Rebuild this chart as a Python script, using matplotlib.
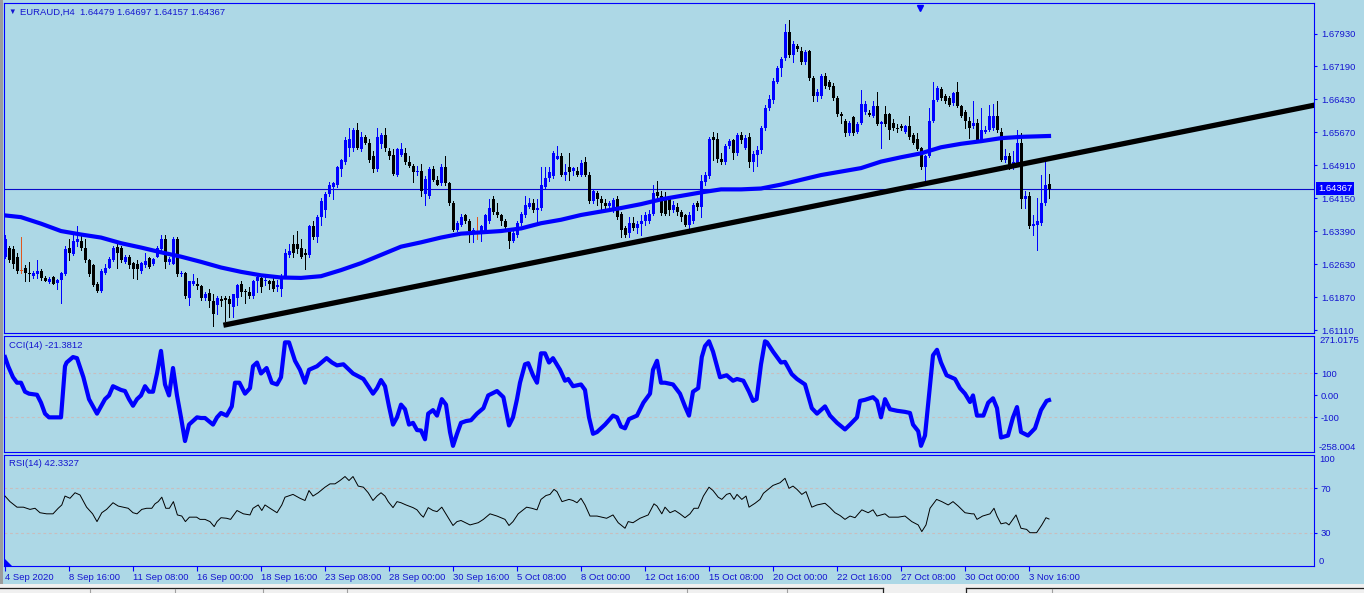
import matplotlib
matplotlib.use("Agg")
import matplotlib.pyplot as plt
import matplotlib.transforms as mtransforms
from matplotlib.patches import Rectangle, Polygon
from matplotlib.lines import Line2D
import numpy as np

# ---------------- data ----------------
symbol_title = "EURAUD,H4  1.64479 1.64697 1.64157 1.64367"

opens = [1.6280,1.6301,1.6297,1.6280,1.6248,1.6255,1.6243,1.6235,1.6239,1.6247,
         1.6231,1.6222,1.6233,1.6220,1.6227,1.6239,1.6299,1.6286,1.6313,1.6317,
         1.6301,1.6272,1.6260,1.6218,1.6202,1.6243,1.6255,1.6272,1.6303,1.6299,
         1.6268,1.6280,1.6265,1.6264,1.6247,1.6260,1.6276,1.6262,1.6280,1.6297,
         1.6321,1.6268,1.6264,1.6321,1.6239,1.6243,1.6185,1.6218,1.6218,1.6213,
         1.6185,1.6196,1.6177,1.6169,1.6183,1.6185,1.6183,1.6165,1.6185,1.6218,
         1.6201,1.6198,1.6190,1.6223,1.6231,1.6223,1.6223,1.6223,1.6210,1.6206,
         1.6235,1.6284,1.6309,1.6309,1.6301,1.6288,1.6284,1.6350,1.6325,1.6371,
         1.6387,1.6424,1.6441,1.6445,1.6482,1.6498,1.6531,1.6531,1.6572,1.6527,
         1.6556,1.6543,1.6511,1.6482,1.6539,1.6560,1.6523,1.6515,1.6469,1.6515,
         1.6519,1.6498,1.6490,1.6474,1.6478,1.6424,1.6420,1.6482,1.6457,1.6449,
         1.6486,1.6449,1.6404,1.6342,1.6354,1.6375,1.6362,1.6338,1.6343,1.6338,
         1.6342,1.6362,1.6412,1.6383,1.6375,1.6362,1.6338,1.6317,1.6330,1.6358,
         1.6375,1.6395,1.6404,1.6387,1.6391,1.6441,1.6461,1.6465,1.6506,1.6511,
         1.6469,1.6486,1.6478,1.6478,1.6469,1.6498,1.6469,1.6408,1.6427,1.6412,
         1.6404,1.6397,1.6387,1.6412,1.6379,1.6346,1.6334,1.6358,1.6346,1.6356,
         1.6361,1.6362,1.6379,1.6428,1.6420,1.6416,1.6412,1.6387,1.6395,1.6383,
         1.6375,1.6354,1.6362,1.6404,1.6395,1.6453,1.6465,1.6556,1.6552,1.6506,
         1.6498,1.6535,1.6548,1.6519,1.6560,1.6531,1.6556,1.6498,1.6515,1.6525,
         1.6576,1.6622,1.6642,1.6683,1.6715,1.6737,1.6797,1.6745,1.6766,1.6753,
         1.6729,1.6753,1.6692,1.6651,1.6651,1.6696,1.6683,1.6674,1.6646,1.6609,
         1.6593,1.6564,1.6601,1.6568,1.6589,1.6613,1.6611,1.6605,1.6627,1.6586,
         1.6609,1.6609,1.6589,1.6576,1.6581,1.6568,1.6581,1.6560,1.6552,1.6531,
         1.6486,1.6511,1.6593,1.6642,1.6667,1.6651,1.6646,1.6634,1.6659,1.6626,
         1.6613,1.6593,1.6581,1.6589,1.6548,1.6567,1.6572,1.6576,1.6605,1.6568,
         1.6502,1.6511,1.6486,1.6494,1.6543,1.6413,1.6420,1.6350,1.6354,1.6358,
         1.6404,1.64479]
highs = [1.6330,1.6305,1.6305,1.6288,1.6325,1.6260,1.6268,1.6247,1.6272,1.6251,
         1.6235,1.6233,1.6235,1.6229,1.6245,1.6305,1.6321,1.6330,1.6350,1.6328,
         1.6321,1.6274,1.6262,1.6221,1.6251,1.6262,1.6280,1.6305,1.6313,1.6305,
         1.6284,1.6284,1.6268,1.6272,1.6268,1.6288,1.6280,1.6276,1.6305,1.6330,
         1.6330,1.6280,1.6325,1.6325,1.6247,1.6245,1.6223,1.6239,1.6231,1.6214,
         1.6198,1.6206,1.6194,1.6190,1.6190,1.6190,1.6190,1.6194,1.6218,1.6223,
         1.6206,1.6210,1.6227,1.6239,1.6239,1.6235,1.6227,1.6235,1.6227,1.6239,
         1.6297,1.6309,1.6330,1.6338,1.6321,1.6297,1.6352,1.6362,1.6375,1.6416,
         1.6428,1.6453,1.6453,1.6490,1.6506,1.6556,1.6576,1.6576,1.6589,1.6568,
         1.6560,1.6552,1.6523,1.6576,1.6564,1.6576,1.6531,1.6527,1.6531,1.6543,
         1.6531,1.6511,1.6494,1.6490,1.6494,1.6465,1.6486,1.6490,1.6465,1.6494,
         1.6511,1.6453,1.6408,1.6362,1.6379,1.6379,1.6367,1.6346,1.6372,1.6354,
         1.6379,1.6412,1.6420,1.6404,1.6379,1.6367,1.6342,1.6342,1.6362,1.6383,
         1.6420,1.6416,1.6412,1.6412,1.6486,1.6486,1.6486,1.6523,1.6535,1.6519,
         1.6494,1.6519,1.6486,1.6486,1.6502,1.6509,1.6474,1.6437,1.6432,1.6420,
         1.6412,1.6408,1.6416,1.6420,1.6383,1.6350,1.6371,1.6371,1.6362,1.6375,
         1.6383,1.6387,1.6445,1.6455,1.6432,1.6428,1.6420,1.6408,1.6404,1.6387,
         1.6379,1.6383,1.6404,1.6408,1.6469,1.6474,1.6556,1.6568,1.6564,1.6519,
         1.6539,1.6550,1.6552,1.6564,1.6568,1.6560,1.6564,1.6523,1.6535,1.6581,
         1.6630,1.6652,1.6692,1.6720,1.6741,1.6815,1.6825,1.6778,1.6770,1.6762,
         1.6757,1.6756,1.6696,1.6667,1.6700,1.6702,1.6688,1.6679,1.6651,1.6613,
         1.6597,1.6593,1.6605,1.6591,1.6663,1.6638,1.6618,1.6638,1.6659,1.6593,
         1.6626,1.6611,1.6597,1.6585,1.6586,1.6583,1.6603,1.6564,1.6564,1.6533,
         1.6515,1.6622,1.6683,1.6673,1.6671,1.6655,1.6651,1.6660,1.6683,1.6630,
         1.6618,1.6601,1.6638,1.6597,1.6622,1.6581,1.6630,1.6632,1.6638,1.6576,
         1.6527,1.6519,1.6523,1.6572,1.6564,1.6432,1.6428,1.6375,1.6416,1.6469,
         1.6502,1.64697]
lows = [1.6276,1.6268,1.6255,1.6243,1.6243,1.6223,1.6223,1.6231,1.6231,1.6227,
        1.6223,1.6220,1.6216,1.6206,1.6173,1.6237,1.6272,1.6284,1.6305,1.6295,
        1.6268,1.6235,1.6213,1.6198,1.6198,1.6239,1.6254,1.6270,1.6254,1.6268,
        1.6265,1.6255,1.6231,1.6229,1.6243,1.6257,1.6255,1.6260,1.6279,1.6295,
        1.6255,1.6262,1.6262,1.6235,1.6235,1.6185,1.6169,1.6214,1.6206,1.6181,
        1.6181,1.6165,1.6120,1.6148,1.6167,1.6132,1.6140,1.6142,1.6169,1.6190,
        1.6173,1.6185,1.6185,1.6198,1.6198,1.6214,1.6206,1.6202,1.6202,1.6190,
        1.6231,1.6280,1.6280,1.6288,1.6276,1.6251,1.6280,1.6321,1.6313,1.6354,
        1.6371,1.6420,1.6412,1.6441,1.6465,1.6494,1.6511,1.6523,1.6527,1.6523,
        1.6539,1.6498,1.6474,1.6478,1.6531,1.6523,1.6506,1.6469,1.6465,1.6511,
        1.6494,1.6486,1.6453,1.6469,1.6420,1.6400,1.6416,1.6455,1.6445,1.6445,
        1.6445,1.6400,1.6339,1.6338,1.6350,1.6358,1.6313,1.6313,1.6321,1.6317,
        1.6338,1.6358,1.6379,1.6371,1.6354,1.6344,1.6301,1.6313,1.6325,1.6354,
        1.6371,1.6391,1.6383,1.6358,1.6387,1.6437,1.6455,1.6461,1.6504,1.6465,
        1.6457,1.6457,1.6469,1.6465,1.6465,1.6465,1.6404,1.6404,1.6400,1.6387,
        1.6391,1.6387,1.6383,1.6367,1.6325,1.6325,1.6325,1.6342,1.6334,1.6330,
        1.6354,1.6358,1.6375,1.6416,1.6377,1.6375,1.6375,1.6383,1.6375,1.6362,
        1.6350,1.6334,1.6358,1.6387,1.6372,1.6445,1.6461,1.6502,1.6498,1.6494,
        1.6494,1.6531,1.6506,1.6515,1.6543,1.6527,1.6486,1.6478,1.6490,1.6519,
        1.6572,1.6618,1.6634,1.6679,1.6696,1.6733,1.6741,1.6729,1.6753,1.6725,
        1.6725,1.6688,1.6638,1.6638,1.6646,1.6669,1.6667,1.6642,1.6605,1.6589,
        1.6558,1.6560,1.6560,1.6564,1.6585,1.6609,1.6603,1.6601,1.6583,1.6531,
        1.6581,1.6550,1.6572,1.6568,1.6572,1.6564,1.6552,1.6539,1.6525,1.6482,
        1.6457,1.6509,1.6591,1.6638,1.6642,1.6634,1.6626,1.6630,1.6624,1.6601,
        1.6576,1.6553,1.6576,1.6545,1.6545,1.6564,1.6570,1.6572,1.6568,1.6501,
        1.6498,1.6482,1.6482,1.6492,1.6391,1.6391,1.6346,1.6330,1.6295,1.6354,
        1.6400,1.64157]
closes = [1.6321,1.6272,1.6264,1.6247,1.6248,1.6243,1.6239,1.6243,1.6247,1.6231,
          1.6225,1.6229,1.6218,1.6227,1.6243,1.6297,1.6288,1.6317,1.6321,1.6299,
          1.6272,1.6239,1.6214,1.6202,1.6247,1.6255,1.6274,1.6301,1.6288,1.6272,
          1.6280,1.6260,1.6251,1.6251,1.6265,1.6270,1.6257,1.6274,1.6301,1.6320,
          1.6268,1.6274,1.6321,1.6239,1.6243,1.6190,1.6223,1.6224,1.6213,1.6185,
          1.6194,1.6177,1.6148,1.6185,1.6177,1.6180,1.6172,1.6194,1.6214,1.6198,
          1.6198,1.6190,1.6223,1.6232,1.6210,1.6227,1.6218,1.6206,1.6214,1.6235,
          1.6288,1.6292,1.6288,1.6297,1.6280,1.6284,1.6350,1.6325,1.6371,1.6408,
          1.6424,1.6445,1.6449,1.6486,1.6502,1.6548,1.6552,1.6572,1.6531,1.6556,
          1.6543,1.6502,1.6482,1.6556,1.6560,1.6531,1.6511,1.6470,1.6527,1.6527,
          1.6498,1.6490,1.6474,1.6478,1.6432,1.6460,1.6482,1.6457,1.6446,1.6486,
          1.6449,1.6404,1.6342,1.6358,1.6372,1.6362,1.6338,1.6342,1.6343,1.6350,
          1.6375,1.6391,1.6383,1.6375,1.6362,1.6348,1.6317,1.6334,1.6358,1.6379,
          1.6400,1.6404,1.6387,1.6391,1.6445,1.6461,1.6474,1.6519,1.6511,1.6469,
          1.6474,1.6474,1.6484,1.6469,1.6496,1.6469,1.6408,1.6432,1.6412,1.6404,
          1.6397,1.6404,1.6410,1.6371,1.6342,1.6331,1.6358,1.6346,1.6356,1.6361,
          1.6377,1.6379,1.6427,1.6420,1.6381,1.6379,1.6387,1.6400,1.6383,1.6371,
          1.6354,1.6377,1.6400,1.6394,1.6455,1.6468,1.6550,1.6548,1.6504,1.6498,
          1.6535,1.6547,1.6519,1.6560,1.6548,1.6554,1.6498,1.6517,1.6525,1.6576,
          1.6622,1.6644,1.6685,1.6715,1.6735,1.6797,1.6745,1.6770,1.6759,1.6729,
          1.6751,1.6692,1.6651,1.6660,1.6696,1.6674,1.6671,1.6646,1.6609,1.6603,
          1.6564,1.6589,1.6564,1.6586,1.6632,1.6632,1.6606,1.6626,1.6586,1.6590,
          1.6585,1.6572,1.6576,1.6575,1.6576,1.6581,1.6556,1.6543,1.6529,1.6486,
          1.6511,1.6593,1.6642,1.6669,1.6646,1.6638,1.6630,1.6657,1.6627,1.6605,
          1.6593,1.6576,1.6589,1.6548,1.6572,1.6572,1.6605,1.6605,1.6572,1.6502,
          1.6512,1.6486,1.6498,1.6543,1.6413,1.6420,1.6350,1.6356,1.6361,1.6404,
          1.6446,1.64367]

# moving average (bar index, value)
ma_points = [(0,1.6375),(4,1.6371),(9,1.6356),(14,1.6339),(19,1.6331),(24,1.6324),
             (29,1.6311),(34,1.6301),(39,1.6290),(44,1.6280),(49,1.6268),(54,1.6255),
             (59,1.6245),(64,1.6237),(69,1.6232),(74,1.6231),(79,1.6235),(84,1.6249),
             (89,1.6265),(94,1.6284),(99,1.6303),(104,1.6313),(109,1.6324),(114,1.6333),
             (119,1.6336),(124,1.6339),(129,1.6345),(134,1.6357),(139,1.6365),(144,1.6376),
             (149,1.6384),(154,1.6392),(159,1.6401),(164,1.6412),(169,1.6420),(174,1.6428),
             (179,1.6435),(184,1.6435),(189,1.6437),(194,1.6446),(199,1.6457),(204,1.6468),
             (209,1.6476),(214,1.6484),(219,1.6499),(224,1.6509),(229,1.6518),(234,1.6532),
             (239,1.6540),(244,1.6546),(249,1.6553),(254,1.6556),(261,1.6558)]

# trend line anchors (bar index, price)
trend_points = [(54.6, 1.6122), (330.0, 1.6634)]

last_price = 1.64367
price_ticks = [1.61110, 1.61870, 1.62630, 1.63390, 1.64150, 1.64910,
               1.65670, 1.66430, 1.67190, 1.67930]

cci_label = "CCI(14) -21.3812"
cci_points = [(0,175),(0.8,133),(2,83),(3,58),(4,58),(5,17),(6,8),(8,3),(9,-33),(10,-83),
              (11,-100),(14,-100),(15,133),(15.4,150),(17,175),(18,170),(19.6,83),(21,-17),
              (23,-83),(24,-50),(25,-17),(26,0),(27,42),(29,25),(30,20),(31,-17),(32,-47),
              (33,-17),(34,0),(35,42),(36,17),(37,17),(38,100),(39,203),(40,50),(41,0),
              (42,125),(43,0),(44,-100),(45,-208),(46,-133),(48,-100),(49,-103),(50,-103),
              (52,-133),(53,-100),(54,-80),(55.4,-92),(56.7,-50),(57.5,58),(58.6,58),(60,8),
              (61.25,33),(62,133),(63,150),(64,100),(65.4,125),(66.7,58),(68,50),(69,83),
              (70,242),(71,242),(72.5,158),(73.75,117),(75,58),(76,117),(78,133),(80.4,170),
              (81.75,150),(83,137),(84.6,142),(87,100),(89.6,75),(90.8,42),(92,8),(93,33),
              (94,70),(95,42),(96,-50),(97,-133),(98,-100),(99,-42),(100,-63),(101,-133),
              (102,-125),(103,-158),(104,-160),(105,-200),(105.8,-83),(107,-67),(108,-92),
              (109.2,-17),(110.25,-42),(111.25,-167),(112,-230),(113,-175),(114,-125),
              (115.25,-117),(116.5,-113),(118,-83),(119.6,-58),(120.8,0),(123,20),(124.6,-8),
              (125.4,-83),(126,-137),(127,-100),(128,-17),(128.75,58),(130,142),(130.8,147),
              (132,92),(133,58),(134,192),(135,192),(136,150),(137,170),(138.75,117),(140,67),
              (140.8,75),(142,42),(144,50),(145,25),(146,-100),(147,-175),(148,-167),(150,-133),
              (152,-92),(153,-100),(154,-142),(155,-150),(156,-108),(157,-100),(158,-92),
              (159.6,-33),(161.25,8),(162,117),(163,158),(164,58),(165,58),(167,50),(168.75,8),
              (170,-50),(171,-92),(172,17),(173.3,33),(174.2,175),(175,225),(176,247),(177,200),
              (178.75,83),(180.4,92),(182,67),(183,75),(184.6,67),(186,17),(187,-25),(187.9,-17),
              (189,142),(190,247),(190.5,242),(192,200),(194,150),(195,153),(196.7,97),(198,75),
              (200,50),(201.7,-58),(203,-83),(205,-50),(206.25,-92),(208,-125),(210,-155),
              (211.25,-133),(213,-100),(213.75,-25),(215,-20),(217,-8),(218,-25),(219,-100),
              (220,-17),(221.25,-63),(223,-70),(225,-75),(226.25,-80),(227,-133),(228.3,-163),
              (229,-230),(230,-183),(231,0),(232,183),(233,208),(234,150),(235.4,92),(237.5,75),
              (238.75,33),(240,8),(241.25,-30),(242,0),(243,-92),(244.6,-92),(245.8,-33),
              (247,-13),(248,-58),(249,-192),(250.75,-183),(252,-100),(253,-53),(254,-167),
              (255.75,-183),(257.5,-150),(259,-67),(260.4,-25),(261,-21.38)]
cci_levels = [100, -100]
cci_min, cci_max = -258.004, 271.0175

rsi_label = "RSI(14) 42.3327"
rsi_points = [(0,63),(1.25,58),(3,53),(4.6,53),(6.25,51),(7.5,52),(8.75,48),(10.4,47),(12,47),
              (13.3,52),(14.2,55),(15,63),(16.25,61),(17.5,66),(18.75,64),(20.4,53),(21.9,47),
              (23,40),(24.2,48),(25.4,51),(27,57),(28.3,54),(29.6,53),(30.8,52),(32,48),(33,47),
              (34.2,51),(35.4,52),(36.7,52),(37.5,56),(38.3,58),(39.2,62),(40.2,52),(41.1,52),
              (42.1,58),(43.1,46),(44.2,45),(45.1,40),(46.1,44),(47.9,44),(48.75,42),(50,42),
              (51.25,40),(52.3,35.5),(53,40),(54,43.5),(55.4,43),(56.4,42),(58,50),(59.6,47),
              (61.25,46),(62,52),(63.3,55),(64.2,50),(65,55),(66.25,52),(68,48),(69.2,55),(70,62),
              (72,64.5),(73.75,61),(75,59),(76,68),(77,63),(78.3,66),(80,71),(81.25,74),
              (82.5,74),(83.75,77),(85,80.6),(86,77),(87,80.6),(88.3,72),(89.6,71),(90.8,66),
              (92,59),(93,63),(94,66),(95,63),(95.8,58),(97,52.6),(98,58),(99,57),(100.25,55),
              (102,52.6),(103,50.6),(104,46),(104.6,44),(105.8,52.6),(107,50),(108,49),
              (109.2,53),(110.4,46),(112,36.5),(113,40),(114,41),(116.25,37),(118.3,39),
              (119.6,42),(121.25,47),(123,45),(125,42),(126,36.5),(127,40),(128.3,47),(130.4,53),
              (131.7,52),(133,50.6),(134,60),(135.25,63.5),(136.25,64.5),(137.25,69),(138,67),
              (139.25,58),(141,60),(142,59),(143,57),(144,61),(145,55),(146.25,45),(148,45),
              (150.4,43),(152,46),(153.3,39),(155,34),(155.8,40),(157,39),(158.75,43),
              (160.8,46),(162.25,56),(163,54),(164.2,47),(165,53),(166.25,48),(167.5,50),
              (168.75,47),(170,43.5),(171.25,47),(172.25,52),(173.3,52),(174.6,63),(176,71),
              (177,68),(178.3,62),(179.2,60),(180.4,64.5),(181.25,65.5),(182.25,60),(183,64.5),
              (184.2,60),(185.25,63),(186,53),(187.5,56.5),(188.75,60),(189.6,65.5),(190.8,69),
              (192,72.6),(193.75,75),(195,79),(196,70),(197,72),(198,69),(199.2,64.5),
              (200.25,67),(201.7,53),(203,55),(205,56.5),(206.25,52.6),(207.5,48),(208.75,45.5),
              (210,42),(211.25,45),(212.5,43.5),(214.2,50.6),(215.8,48),(217,50.6),(218,45),
              (220,47),(221,44),(223.3,44),(225,45),(226.7,40),(228.3,37),(229.2,31),(230.25,37),
              (231.25,52),(232.9,60),(234.2,58),(235.8,55),(237,58),(238.3,54),(240,48),
              (241.7,47),(242.25,47),(243,42),(244.4,45),(246.25,47),(247.25,52),(248,45),
              (249,38),(250.25,39),(251,37),(252.75,46),(254,34),(255.4,33),(256.25,30),
              (257.9,30),(259.2,37),(260.25,43.5),(261,42.33)]
rsi_levels = [70, 30]

xtick_bars = [0, 16, 32, 48, 64, 80, 96, 112, 128, 144, 160, 176, 192, 208, 224, 240, 256]
xtick_labels = ["4 Sep 2020", "8 Sep 16:00", "11 Sep 08:00", "16 Sep 00:00", "18 Sep 16:00",
                "23 Sep 08:00", "28 Sep 00:00", "30 Sep 16:00", "5 Oct 08:00", "8 Oct 00:00",
                "12 Oct 16:00", "15 Oct 08:00", "20 Oct 00:00", "22 Oct 16:00", "27 Oct 08:00",
                "30 Oct 00:00", "3 Nov 16:00"]

# ---------------- styling ----------------
W, H = 1364, 593
BG = "#ADD8E6"
FRAME = "#0000FF"
TXT = "#1515D0"
GRID = "#C9BDBD"
BULL = "#0000FF"
BEAR = "#000000"
DOJI = "#E0561E"
FONT = "Liberation Sans"
FS = 6.8

plt.rcParams["font.family"] = [FONT, "DejaVu Sans"]

fig = plt.figure(figsize=(W / 100, H / 100), dpi=100)
fig.patch.set_facecolor(BG)


def rect(x0, y0, x1, y1):
    return [x0 / W, 1 - y1 / H, (x1 - x0) / W, (y1 - y0) / H]


def fx(x):
    return x / W


def fy(y):
    return 1 - y / H


ax = fig.add_axes(rect(4, 3, 1314, 333))
axc = fig.add_axes(rect(4, 336, 1314, 452))
axr = fig.add_axes(rect(4, 455, 1314, 566))

XMIN, XMAX = -0.25, 327.25
for a in (ax, axc, axr):
    a.set_facecolor(BG)
    a.set_xlim(XMIN, XMAX)
    for s in a.spines.values():
        s.set_color(FRAME)
        s.set_linewidth(0.8)
    a.yaxis.tick_right()
    a.tick_params(axis="y", direction="out", length=2.5, width=0.8, color=FRAME,
                  labelcolor=TXT, labelsize=FS, pad=2.5)
    a.tick_params(axis="y", which="both", left=False, labelleft=False)

# ---------------- main price panel ----------------
n = len(closes)
idx = np.arange(n)
o = np.array(opens); h = np.array(highs); l = np.array(lows); c = np.array(closes)
cols = [BULL if cc > oo else (BEAR if cc < oo else DOJI) for oo, cc in zip(o, c)]
ax.vlines(idx, l, h, colors=cols, lw=0.72, zorder=2, antialiased=False)
body_bottom = np.minimum(o, c)
body_h = np.maximum(np.abs(c - o), 0.00012)
ax.bar(idx, body_h, bottom=body_bottom, width=0.75, color=cols, lw=0, zorder=3,
       antialiased=False)

ma_x, ma_y = zip(*ma_points)
ax.plot(ma_x, ma_y, color=BULL, lw=3.0, solid_joinstyle="round", zorder=4)

tr_x, tr_y = zip(*trend_points)
ax.plot(tr_x, tr_y, color="black", lw=3.8, solid_capstyle="butt", zorder=5)

ax.axhline(last_price, color="#0A0AC8", lw=0.8, zorder=1)

ax.set_ylim(1.61041, 1.68644)
ax.set_yticks(price_ticks)
ax.set_yticklabels([f"{v:.5f}" for v in price_ticks])
ax.set_xticks([])

blend_main = mtransforms.blended_transform_factory(ax.transAxes, ax.transData)
ax.text(1 + 4 / 1310, last_price, f"{last_price:.5f}", transform=blend_main, ha="left",
        va="center", color="white", fontsize=FS, zorder=10,
        bbox=dict(boxstyle="square,pad=0.18", facecolor="#0000FF", edgecolor="none"))

# chart shift marker on top
blend_top = mtransforms.blended_transform_factory(ax.transData, ax.transAxes)
ax.plot([228.75], [0.986], marker="v", ms=4.8, color=FRAME, transform=blend_top,
        clip_on=False, zorder=6)

fig.text(fx(8), fy(12), "\u25BC", fontsize=5.5, color=TXT, va="center", ha="left")
fig.text(fx(20), fy(12), symbol_title, fontsize=FS, color=TXT, va="center", ha="left")

# ---------------- CCI panel ----------------
cx, cy = zip(*cci_points)
for lvl in cci_levels:
    axc.axhline(lvl, color=GRID, lw=0.8, ls=(0, (2.5, 2.5)), zorder=1)
axc.plot(cx, cy, color=BULL, lw=3.0, solid_joinstyle="round", zorder=3)
axc.set_ylim(cci_min, cci_max)
axc.set_yticks([100, 0, -100])
axc.set_yticklabels(["100", "0.00", "-100"])
axc.set_xticks([])
blend_c = mtransforms.blended_transform_factory(axc.transAxes, axc.transData)
axc.text(1 + 5 / 1310, cci_max, f"{cci_max:.4f}", transform=blend_c, ha="left", va="top",
         color=TXT, fontsize=FS)
axc.text(1 + 5 / 1310, cci_min, f"{cci_min:.3f}", transform=blend_c, ha="left", va="bottom",
         color=TXT, fontsize=FS)
fig.text(fx(9), fy(345), cci_label, fontsize=FS, color=TXT, va="center", ha="left")

# ---------------- RSI panel ----------------
rx, ry = zip(*rsi_points)
for lvl in rsi_levels:
    axr.axhline(lvl, color=GRID, lw=0.8, ls=(0, (2.5, 2.5)), zorder=1)
axr.plot(rx, ry, color="black", lw=0.7, zorder=3)
axr.set_ylim(0, 100)
axr.set_yticks([70, 30])
axr.set_yticklabels(["70", "30"])
blend_r = mtransforms.blended_transform_factory(axr.transAxes, axr.transData)
axr.text(1 + 5 / 1310, 100, "100", transform=blend_r, ha="left", va="top",
         color=TXT, fontsize=FS)
axr.text(1 + 5 / 1310, 0, "0", transform=blend_r, ha="left", va="bottom",
         color=TXT, fontsize=FS)
fig.text(fx(9), fy(464), rsi_label, fontsize=FS, color=TXT, va="center", ha="left")

axr.set_xticks(xtick_bars)
axr.set_xticklabels(xtick_labels, ha="left")
axr.tick_params(axis="x", direction="out", length=3.5, width=0.8, color=FRAME,
                labelcolor=TXT, labelsize=FS, pad=1.5)

# small corner triangle in RSI panel
fig.patches.append(Polygon([(fx(5), fy(566)), (fx(5), fy(559)), (fx(12), fy(566))],
                           closed=True, facecolor=FRAME, edgecolor="none",
                           transform=fig.transFigure, zorder=5))

# ---------------- window chrome ----------------
fig.patches.append(Rectangle((0, fy(585)), fx(2.5), 585 / H, facecolor="#9C9C9C",
                             edgecolor="none", transform=fig.transFigure, zorder=0))
fig.patches.append(Rectangle((0, 0), 1, fy(584), facecolor="#F0F0F0",
                             edgecolor="none", transform=fig.transFigure, zorder=0))
for (xa, xb) in [(0, 883), (966, 1364)]:
    fig.lines.append(Line2D([fx(xa), fx(xb)], [fy(588), fy(588)], color="#202020",
                            lw=0.9, transform=fig.transFigure))
for xv in (883, 966):
    fig.lines.append(Line2D([fx(xv), fx(xv)], [fy(588), fy(593)], color="#202020",
                            lw=0.9, transform=fig.transFigure))
for xv in (90, 175, 263, 347, 687, 787, 1052):
    fig.lines.append(Line2D([fx(xv), fx(xv)], [fy(589), fy(593)], color="#A0A0A0",
                            lw=0.8, transform=fig.transFigure))

fig.savefig("out.png", dpi=100, facecolor=fig.get_facecolor())
